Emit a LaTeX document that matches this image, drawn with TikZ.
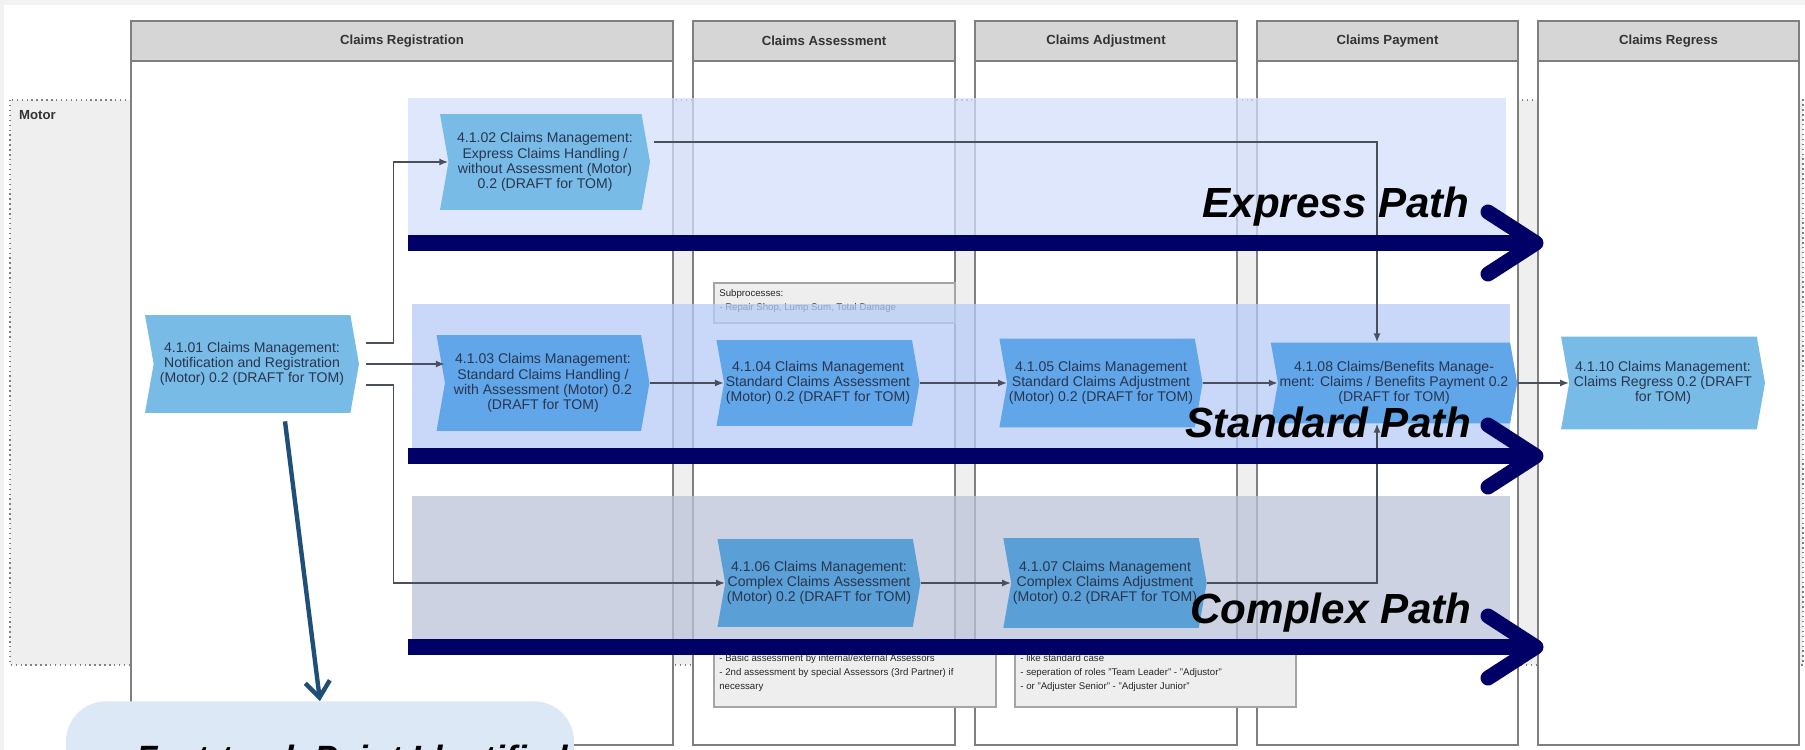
\documentclass[tikz,border=0pt]{standalone}
\usepackage{fontspec}
\setmainfont{Liberation Sans}
\usetikzlibrary{shapes.symbols, arrows.meta}

\definecolor{colline}{HTML}{7F7F7F}
\definecolor{headgray}{HTML}{D6D6D6}
\definecolor{lanegray}{HTML}{EFEFEF}
\definecolor{notegray}{HTML}{EEEEEE}
\definecolor{expressband}{HTML}{D4DFFA}
\definecolor{standardband}{HTML}{B7CCF6}
\definecolor{complexband}{HTML}{BBC4D8}
\definecolor{proclight}{HTML}{78BBE6}
\definecolor{procmid}{HTML}{60A6E8}
\definecolor{procdark}{HTML}{5A9FD5}
\definecolor{proctext}{HTML}{2A3550}
\definecolor{flowgray}{HTML}{4A4F5C}
\definecolor{barnavy}{HTML}{000066}
\definecolor{calloutblue}{HTML}{1F4E79}
\definecolor{calloutfill}{HTML}{DCE8F5}

\begin{document}
\begin{tikzpicture}[x = 0.02cm, y = -0.02cm,
    col/.style = {draw = colline, fill = white, line width = 0.8pt},
    colhead/.style = {draw = colline, fill = headgray, line width = 0.8pt},
    headtext/.style = {font = \fontsize{7.5}{9}\selectfont\bfseries, text = black!80},
    proc/.style = {shape = signal, signal from = west, signal to = east,
        signal pointer angle = 160, align = center, inner sep = 1pt,
        text = proctext, font = \fontsize{8}{8.6}\selectfont},
    flow/.style = {draw = flowgray, line width = 0.8pt, -{Latex[length = 5pt, width = 4pt]}},
    note/.style = {draw = colline!70, fill = notegray, line width = 0.6pt},
    notetext/.style = {align = left, inner sep = 0pt, text = black!85, font = \fontsize{5.5}{8}\selectfont},
    band/.style = {fill opacity = 0.75},
    bar/.style = {draw = barnavy, line width = 0.32cm},
    barhead/.style = {draw = barnavy, line width = 0.3cm, line cap = round, line join = round},
    pathlabel/.style = {anchor = base east, inner sep = 0pt, font = \fontsize{24}{24}\selectfont\bfseries\itshape}]

    \useasboundingbox (0,0) rectangle (1805,750);
    \clip (0,0) rectangle (1805,750);
    \fill[black!5] (0,0) rectangle (1805,750);
    \fill[white] (4,5) rectangle (1805,750);

    \draw[fill = lanegray, draw = colline, dotted, line width = 0.8pt] (10,100) rectangle (1803,665);
    \node (M) [anchor = west, font = \fontsize{7.5}{8}\selectfont\bfseries, text = black!80] at (13,115) {Motor};

    \foreach \xa/\xb/\coltitle [count = \i] in {131/673/Claims Registration, 693/955/Claims Assessment,
        975/1237/Claims Adjustment, 1257/1518/Claims Payment, 1538/1799/Claims Regress}{
        \draw[col] (\xa,21) rectangle (\xb,745);
        \draw[colhead] (\xa,21) rectangle (\xb,61);
        \node (H\i) [headtext] at ({(\xa+\xb)/2},41) {\coltitle};
    }

    \draw[note] (714,283) rectangle (955,323);
    \node (S1) [notetext, anchor = north west] at (719,289) {Subprocesses:\\- Repair Shop, Lump Sum, Total Damage};
    \draw[note] (714,648) rectangle (996,707);
    \node (S2) [notetext, anchor = north west] at (719,654) {- Basic assessment by internal/external Assessors\\- 2nd assessment by special Assessors (3rd Partner) if\\necessary};
    \draw[note] (1015,648) rectangle (1296,707);
    \node (S3) [notetext, anchor = north west] at (1020,654) {- like standard case\\- seperation of roles "Team Leader" - "Adjustor"\\- or "Adjuster Senior" - "Adjuster Junior"};

    \fill[band, expressband] (408,98) rectangle (1506,235);
    \fill[band, standardband] (412,304) rectangle (1510,448);
    \fill[band, complexband] (412,496) rectangle (1510,639);

    \node (n01) [proc, fill = proclight, minimum width = 4.28cm, minimum height = 1.96cm] at (252,364)
        {4.1.01 Claims Management:\\Notification and Registration\\(Motor) 0.2 (DRAFT for TOM)};
    \node (n02) [proc, fill = proclight, minimum width = 4.2cm, minimum height = 1.92cm] at (545,162)
        {4.1.02 Claims Management:\\Express Claims Handling /\\without Assessment (Motor)\\0.2 (DRAFT for TOM)};
    \node (n03) [proc, fill = procmid, minimum width = 4.26cm, minimum height = 1.92cm] at (543,383)
        {4.1.03 Claims Management:\\Standard Claims Handling /\\with Assessment (Motor) 0.2\\(DRAFT for TOM)};
    \node (n04) [proc, fill = procmid, minimum width = 3.98cm, minimum height = 1.72cm] at (818,383)
        {4.1.04 Claims Management\\Standard Claims Assessment\\(Motor) 0.2 (DRAFT for TOM)};
    \node (n05) [proc, fill = procmid, minimum width = 3.9cm, minimum height = 1.78cm] at (1101,383)
        {4.1.05 Claims Management\\Standard Claims Adjustment\\(Motor) 0.2 (DRAFT for TOM)};
    \node (n08) [proc, fill = procmid, minimum width = 4.38cm, minimum height = 1.62cm] at (1394,383)
        {4.1.08 Claims/Benefits Manage-\\ment: Claims / Benefits Payment 0.2\\(DRAFT for TOM)};
    \node (n10) [proc, fill = proclight, minimum width = 4.08cm, minimum height = 1.86cm] at (1663,383)
        {4.1.10 Claims Management:\\Claims Regress 0.2 (DRAFT\\for TOM)};
    \node (n06) [proc, fill = procdark, minimum width = 3.92cm, minimum height = 1.76cm] at (819,583)
        {4.1.06 Claims Management:\\Complex Claims Assessment\\(Motor) 0.2 (DRAFT for TOM)};
    \node (n07) [proc, fill = procdark, minimum width = 3.96cm, minimum height = 1.8cm] at (1105,583)
        {4.1.07 Claims Management\\Complex Claims Adjustment\\(Motor) 0.2 (DRAFT for TOM)};

    \draw[flow] ([shift = {(7,-21)}]n01.east) -- ++(27,0) |- (n02.west);
    \draw[flow] ([xshift = 0.14cm]n01.east) -- (n01.east -| n03.west);
    \draw[flow] ([shift = {(7,21)}]n01.east) -- ++(27,0) |- (n06.west);
    \draw[flow] ([shift = {(4,-20)}]n02.east) -| ([xshift = -0.34cm]n08.north);
    \draw[flow] (n03.east) -- (n04.west);
    \draw[flow] (n04.east) -- (n05.west);
    \draw[flow] (n05.east) -- (n08.west);
    \draw[flow] (n08.east) -- (n10.west);
    \draw[flow] (n06.east) -- (n07.west);
    \draw[flow] (n07.east) -| ([xshift = -0.34cm]n08.south);

    \foreach \y in {243,456,647}{
        \draw[bar] (408,\y) -- (1530,\y);
        \draw[barhead] (1488,\y-31) -- (1536,\y) -- (1488,\y+31);
    }
    \node (E) [pathlabel] at (1470,217) {Express Path};
    \node (St) [pathlabel] at (1472,437) {Standard Path};
    \node (Cx) [pathlabel] at (1472,623) {Complex Path};

    \node (C) [fill = calloutfill, rounded corners = 0.8cm, minimum width = 10.16cm, minimum height = 2cm, anchor = north] at (320,701) {};
    \node (Ct) [anchor = base west, inner sep = 0pt, font = \fontsize{20}{20}\selectfont\bfseries\itshape] at (136,770) {Fast-track Point Identified};
    \draw[calloutblue, line width = 2.5pt, -{Straight Barb[length = 9pt, width = 14pt]}] ([shift = {(33,8)}]n01.south) -- (C.north);
\end{tikzpicture}
\end{document}
